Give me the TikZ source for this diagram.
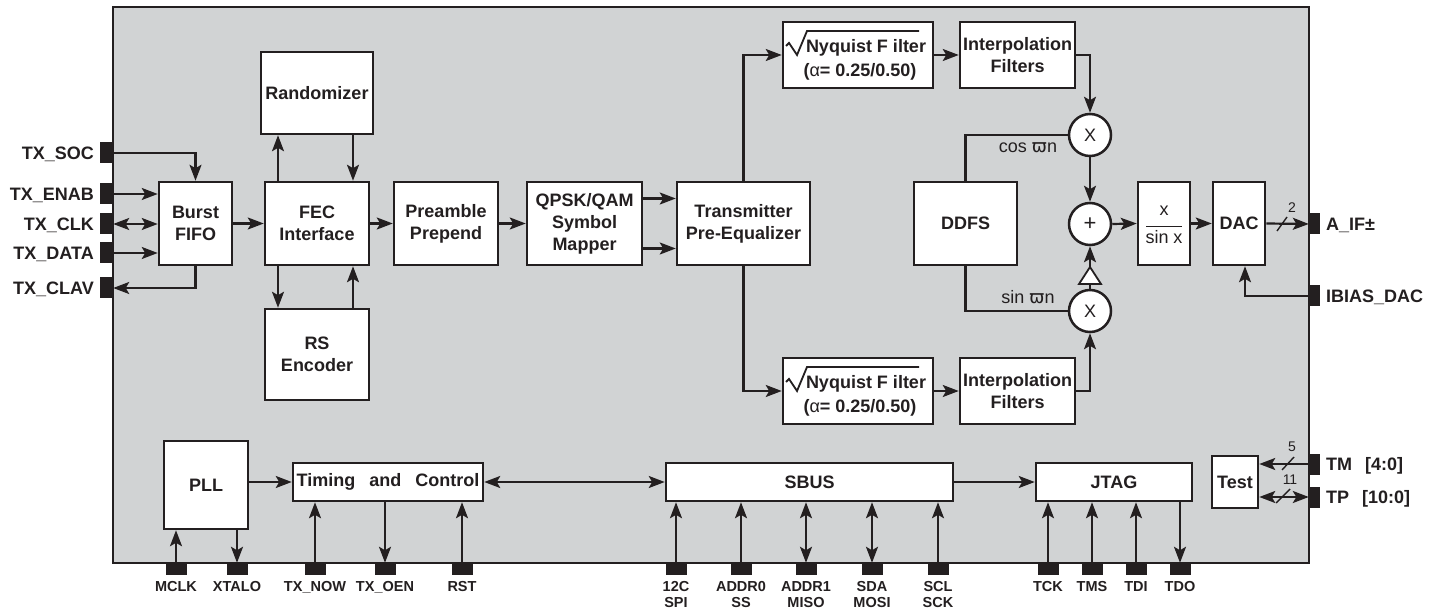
\documentclass[tikz,border=0pt]{standalone}
\usepackage{fontspec}
\setmainfont{Liberation Sans}
\newfontfamily\dvfont{DejaVu Sans}
\usetikzlibrary{arrows.meta}
\definecolor{chip}{HTML}{D1D3D4}
\definecolor{ink}{HTML}{231F20}
\tikzset{
 blk/.style={draw=ink, fill=white, line width=2.5pt, inner sep=0pt, align=center, text=ink, font=\bfseries\fontsize{18}{22}\selectfont},
 pinf/.style={fill=ink, draw=none, inner sep=0pt},
 lpin/.style={pinf, minimum width=13pt, minimum height=21pt},
 bpin/.style={pinf, minimum width=21pt, minimum height=12pt},
 rpin/.style={pinf, minimum width=11pt, minimum height=21pt},
 mixc/.style={circle, draw=ink, fill=white, line width=2.5pt, minimum size=42pt, inner sep=0pt, font=\fontsize{18}{20}\selectfont, text=ink},
 wire/.style={draw=ink, line width=2.2pt},
 arr/.style={wire, -{Stealth[length=16pt,width=12pt,inset=3.5pt]}},
 barr/.style={wire, {Stealth[length=16pt,width=12pt,inset=3.5pt]}-{Stealth[length=16pt,width=12pt,inset=3.5pt]}},
 lbl/.style={text=ink, inner sep=0pt, font=\bfseries\fontsize{18}{20}\selectfont},
 blbl/.style={text=ink, inner sep=0pt, font=\bfseries\fontsize{14.5}{17}\selectfont},
 rlbl/.style={text=ink, inner sep=0pt, font=\fontsize{18}{20}\selectfont},
 nlbl/.style={text=ink, inner sep=0pt, font=\fontsize{14}{16}\selectfont},
 slashln/.style={draw=ink, line width=1.4pt},
}
\begin{document}
\begin{tikzpicture}[x=1pt,y=-1pt]
\useasboundingbox (0,0) rectangle (1440,609);
\fill[white] (0,0) rectangle (1440,609);
\node[draw=ink, fill=chip, line width=2.5pt, minimum width=1196pt, minimum height=556pt, inner sep=0pt] (chip) at (711,285) {};

% ---- blocks ----
\node[blk, minimum width=73pt, minimum height=83pt] (fifo) at (195.5,223.5) {Burst\\FIFO};
\node[blk, minimum width=104pt, minimum height=83pt] (fec) at (317,223.5) {FEC\\Interface};
\node[blk, minimum width=112pt, minimum height=82pt] (rand) at (317,93) {Randomizer};
\node[blk, minimum width=104pt, minimum height=91pt] (rs) at (317,354.5) {RS\\Encoder};
\node[blk, minimum width=104pt, minimum height=83pt] (pre) at (446,223.5) {Preamble\\Prepend};
\node[blk, minimum width=115pt, minimum height=83pt] (qpsk) at (584.5,223.5) {QPSK/QAM\\Symbol\\Mapper};
\node[blk, minimum width=133pt, minimum height=83pt] (tx) at (743.5,223.5) {Transmitter\\Pre-Equalizer};
\node[blk, minimum width=150pt, minimum height=66pt] (nyq1) at (858,55) {};
\node[blk, minimum width=115pt, minimum height=66pt] (int1) at (1017.5,55) {Interpolation\\Filters};
\node[blk, minimum width=150pt, minimum height=66pt] (nyq2) at (858,391) {};
\node[blk, minimum width=115pt, minimum height=66pt] (int2) at (1017.5,391) {Interpolation\\Filters};
\node[blk, minimum width=103pt, minimum height=83pt] (ddfs) at (965.5,223.5) {DDFS};
\node[mixc] (mix1) at (1090,135) {X};
\node[mixc, font=\fontsize{22}{24}\selectfont] (sum) at (1090,224) {+};
\node[mixc] (mix2) at (1090,311) {X};
\node[blk, minimum width=52pt, minimum height=83pt] (sinc) at (1164,223.5) {};
\node[blk, minimum width=52pt, minimum height=83pt] (dac) at (1239,223.5) {DAC};
\node[blk, minimum width=84pt, minimum height=88pt] (pll) at (206,485) {PLL};
\node[blk, minimum width=190pt, minimum height=38pt] (tim) at (388,482) {Timing\hspace{9pt} and\hspace{9pt} Control};
\node[blk, minimum width=287pt, minimum height=38pt] (sbus) at (809.5,482) {SBUS};
\node[blk, minimum width=156pt, minimum height=38pt] (jtag) at (1114,482) {JTAG};
\node[blk, minimum width=46pt, minimum height=52pt] (test) at (1235,482) {Test};

% Nyquist filter texts
\foreach \n in {nyq1,nyq2}{
  \node[lbl] at ([shift={(8,-7)}]\n.center) {Nyquist F ilter};
  \node[lbl] at ([shift={(2,17)}]\n.center) {(\mdseries α\bfseries= 0.25/0.50)};
  \draw[draw=ink, line width=1.8pt, line join=miter] ([shift={(-72,-9)}]\n.center) -- ([shift={(-69,-12)}]\n.center) -- ([shift={(-61,0)}]\n.center) -- ([shift={(-51,-24)}]\n.center) -- ([shift={(61,-24)}]\n.center);
}
% x / sin x
\node[rlbl] at ([yshift=13pt]sinc.center) {x};
\node[rlbl] at ([yshift=-14pt]sinc.center) {sin x};
\draw[draw=ink, line width=1.3pt] ([shift={(-18,3)}]sinc.center) -- ([shift={(18,3)}]sinc.center);

% ---- pins ----
\node[lpin] (pSOC) at (106.5,153) {};
\node[lpin] (pENAB) at (106.5,194) {};
\node[lpin] (pCLK) at (106.5,224) {};
\node[lpin] (pDATA) at (106.5,253) {};
\node[lpin] (pCLAV) at (106.5,288) {};
\node[lbl, anchor=base east] at (94,160) {TX\_SOC};
\node[lbl, anchor=base east] at (94,200.5) {TX\_ENAB};
\node[lbl, anchor=base east] at (94,230.5) {TX\_CLK};
\node[lbl, anchor=base east] at (94,259.5) {TX\_DATA};
\node[lbl, anchor=base east] at (94,294.5) {TX\_CLAV};

\node[rpin] (pAIF) at (1314.5,224) {};
\node[rpin] (pIB) at (1314.5,296) {};
\node[rpin] (pTM) at (1314.5,464) {};
\node[rpin] (pTP) at (1314.5,497) {};
\node[lbl, anchor=base west] at (1326,230.5) {A\_IF±};
\node[lbl, anchor=base west] at (1326,302.5) {IBIAS\_DAC};
\node[lbl, anchor=base west] at (1326,470.5) {TM\hspace{13pt}[4:0]};
\node[lbl, anchor=base west] at (1326,503.5) {TP\hspace{13pt}[10:0]};

\foreach \nm/\x in {pMCLK/176,pXTALO/237,pNOW/315,pOEN/385,pRST/462,pSPI/676,pSS/741,pMISO/806,pMOSI/872,pSCK/938,pTCK/1048,pTMS/1092,pTDI/1136,pTDO/1180}{
  \node[bpin] (\nm) at (\x,569) {};
}
\foreach \x/\t in {176/MCLK,237/XTALO,315/TX\_NOW,385/TX\_OEN,462/RST,676/12C,741/ADDR0,806/ADDR1,872/SDA,938/SCL,1048/TCK,1092/TMS,1136/TDI,1180/TDO}{
  \node[blbl, anchor=base] at (\x,591) {\t};
}
\foreach \x/\t in {676/SPI,741/SS,806/MISO,872/MOSI,938/SCK}{
  \node[blbl, anchor=base] at (\x,607.5) {\t};
}

% ---- connectors ----
\draw[arr] (pSOC.east) -| (fifo.north);
\draw[arr] (pENAB.east) -- (pENAB.east -| fifo.west);
\draw[barr] (pCLK.east) -- (pCLK.east -| fifo.west);
\draw[arr] (pDATA.east) -- (pDATA.east -| fifo.west);
\draw[arr] (fifo.south) |- (pCLAV.east);
\draw[arr] (fifo.east) -- (fec.west);
\draw[arr] ([xshift=-39pt]fec.north) -- ([xshift=-39pt]fec.north |- rand.south);
\draw[arr] ([xshift=36pt]rand.south) -- ([xshift=36pt]rand.south |- fec.north);
\draw[arr] ([xshift=-39pt]fec.south) -- ([xshift=-39pt]fec.south |- rs.north);
\draw[arr] ([xshift=36pt]rs.north) -- ([xshift=36pt]rs.north |- fec.south);
\draw[arr] (fec.east) -- (pre.west);
\draw[arr] (pre.east) -- (qpsk.west);
\draw[arr] ([yshift=25pt]qpsk.east) -- ([yshift=25pt]tx.west);
\draw[arr] ([yshift=-25pt]qpsk.east) -- ([yshift=-25pt]tx.west);
\draw[arr] (tx.north) |- (nyq1.west);
\draw[arr] (tx.south) |- (nyq2.west);
\draw[arr] (nyq1.east) -- (int1.west);
\draw[arr] (nyq2.east) -- (int2.west);
\draw[arr] (int1.east) -| (mix1.north);
\draw[arr] (int2.east) -| (mix2.south);
\draw[wire] (ddfs.north) |- (mix1.west);
\draw[wire] (ddfs.south) |- (mix2.west);
\node[rlbl, anchor=base] at (1028,153) {cos {\dvfont ϖ}n};
\node[rlbl, anchor=base] at (1028,304) {sin {\dvfont ϖ}n};
\draw[arr] (mix1.south) -- (sum.north);
\draw[arr] (mix2.north) -- (sum.south);
\draw[draw=ink, fill=white, line width=1.8pt, line join=miter] (1079,284) -- (1101,284) -- (1090,267) -- cycle;
\draw[arr] (sum.east) -- (sinc.west);
\draw[arr] (sinc.east) -- (dac.west);
\draw[arr] (dac.east) -- (pAIF.west);
\draw[slashln] (1277,231) -- (1287,217);
\node[nlbl] at (1292,208) {2};
\draw[arr] (pIB.west) -| ([xshift=6pt]dac.south);

\draw[arr] (pll.east |- tim.west) -- (tim.west);
\draw[barr] (tim.east) -- (sbus.west);
\draw[arr] (sbus.east) -- (jtag.west);
\draw[arr] (pTM.west) -- (pTM.west -| test.east);
\draw[barr] (pTP.west) -- (pTP.west -| test.east);
\draw[slashln] (1282,470) -- (1294,457);
\node[nlbl] at (1292,447) {5};
\draw[slashln] (1276,503) -- (1290,489);
\node[nlbl] at (1290,480) {11};

\draw[arr] (pMCLK.north) -- (pMCLK.north |- pll.south);
\draw[arr] (pll.south -| pXTALO.north) -- (pXTALO.north);
\draw[arr] (pNOW.north) -- (pNOW.north |- tim.south);
\draw[arr] (tim.south -| pOEN.north) -- (pOEN.north);
\draw[arr] (pRST.north) -- (pRST.north |- tim.south);
\draw[arr] (pSPI.north) -- (pSPI.north |- sbus.south);
\draw[arr] (pSS.north) -- (pSS.north |- sbus.south);
\draw[barr] (pMISO.north) -- (pMISO.north |- sbus.south);
\draw[barr] (pMOSI.north) -- (pMOSI.north |- sbus.south);
\draw[arr] (pSCK.north) -- (pSCK.north |- sbus.south);
\draw[arr] (pTCK.north) -- (pTCK.north |- jtag.south);
\draw[arr] (pTMS.north) -- (pTMS.north |- jtag.south);
\draw[arr] (pTDI.north) -- (pTDI.north |- jtag.south);
\draw[arr] (jtag.south -| pTDO.north) -- (pTDO.north);
\end{tikzpicture}
\end{document}
